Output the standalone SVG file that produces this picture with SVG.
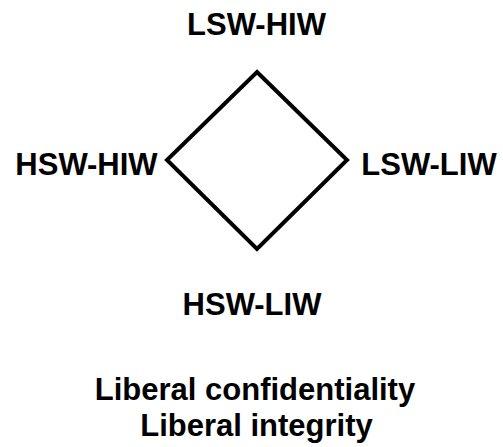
<svg xmlns="http://www.w3.org/2000/svg" width="503" height="447" viewBox="0 0 503 447">
<style>
.lbl{font-family:"Liberation Sans",Arial,Helvetica,sans-serif;font-weight:bold;font-size:31px;fill:#000;text-anchor:middle}
.edge{fill:none;stroke:#000;stroke-width:4;stroke-linejoin:miter;stroke-miterlimit:10}
</style>
<rect width="503" height="447" fill="#fff"/>
<g id="connectors">
<path class="edge" d="M257,72 L347,160 L257,249 L167,160 Z"/>
</g>
<g id="node-top"><text class="lbl" x="256.5" y="35">LSW-HIW</text></g>
<g id="node-left"><text class="lbl" x="86.5" y="175">HSW-HIW</text></g>
<g id="node-right"><text class="lbl" x="429" y="175">LSW-LIW</text></g>
<g id="node-bottom"><text class="lbl" x="252" y="315">HSW-LIW</text></g>
<g id="caption">
<text class="lbl" x="255" y="400">Liberal confidentiality</text>
<text class="lbl" x="256.5" y="436">Liberal integrity</text>
</g>
</svg>
